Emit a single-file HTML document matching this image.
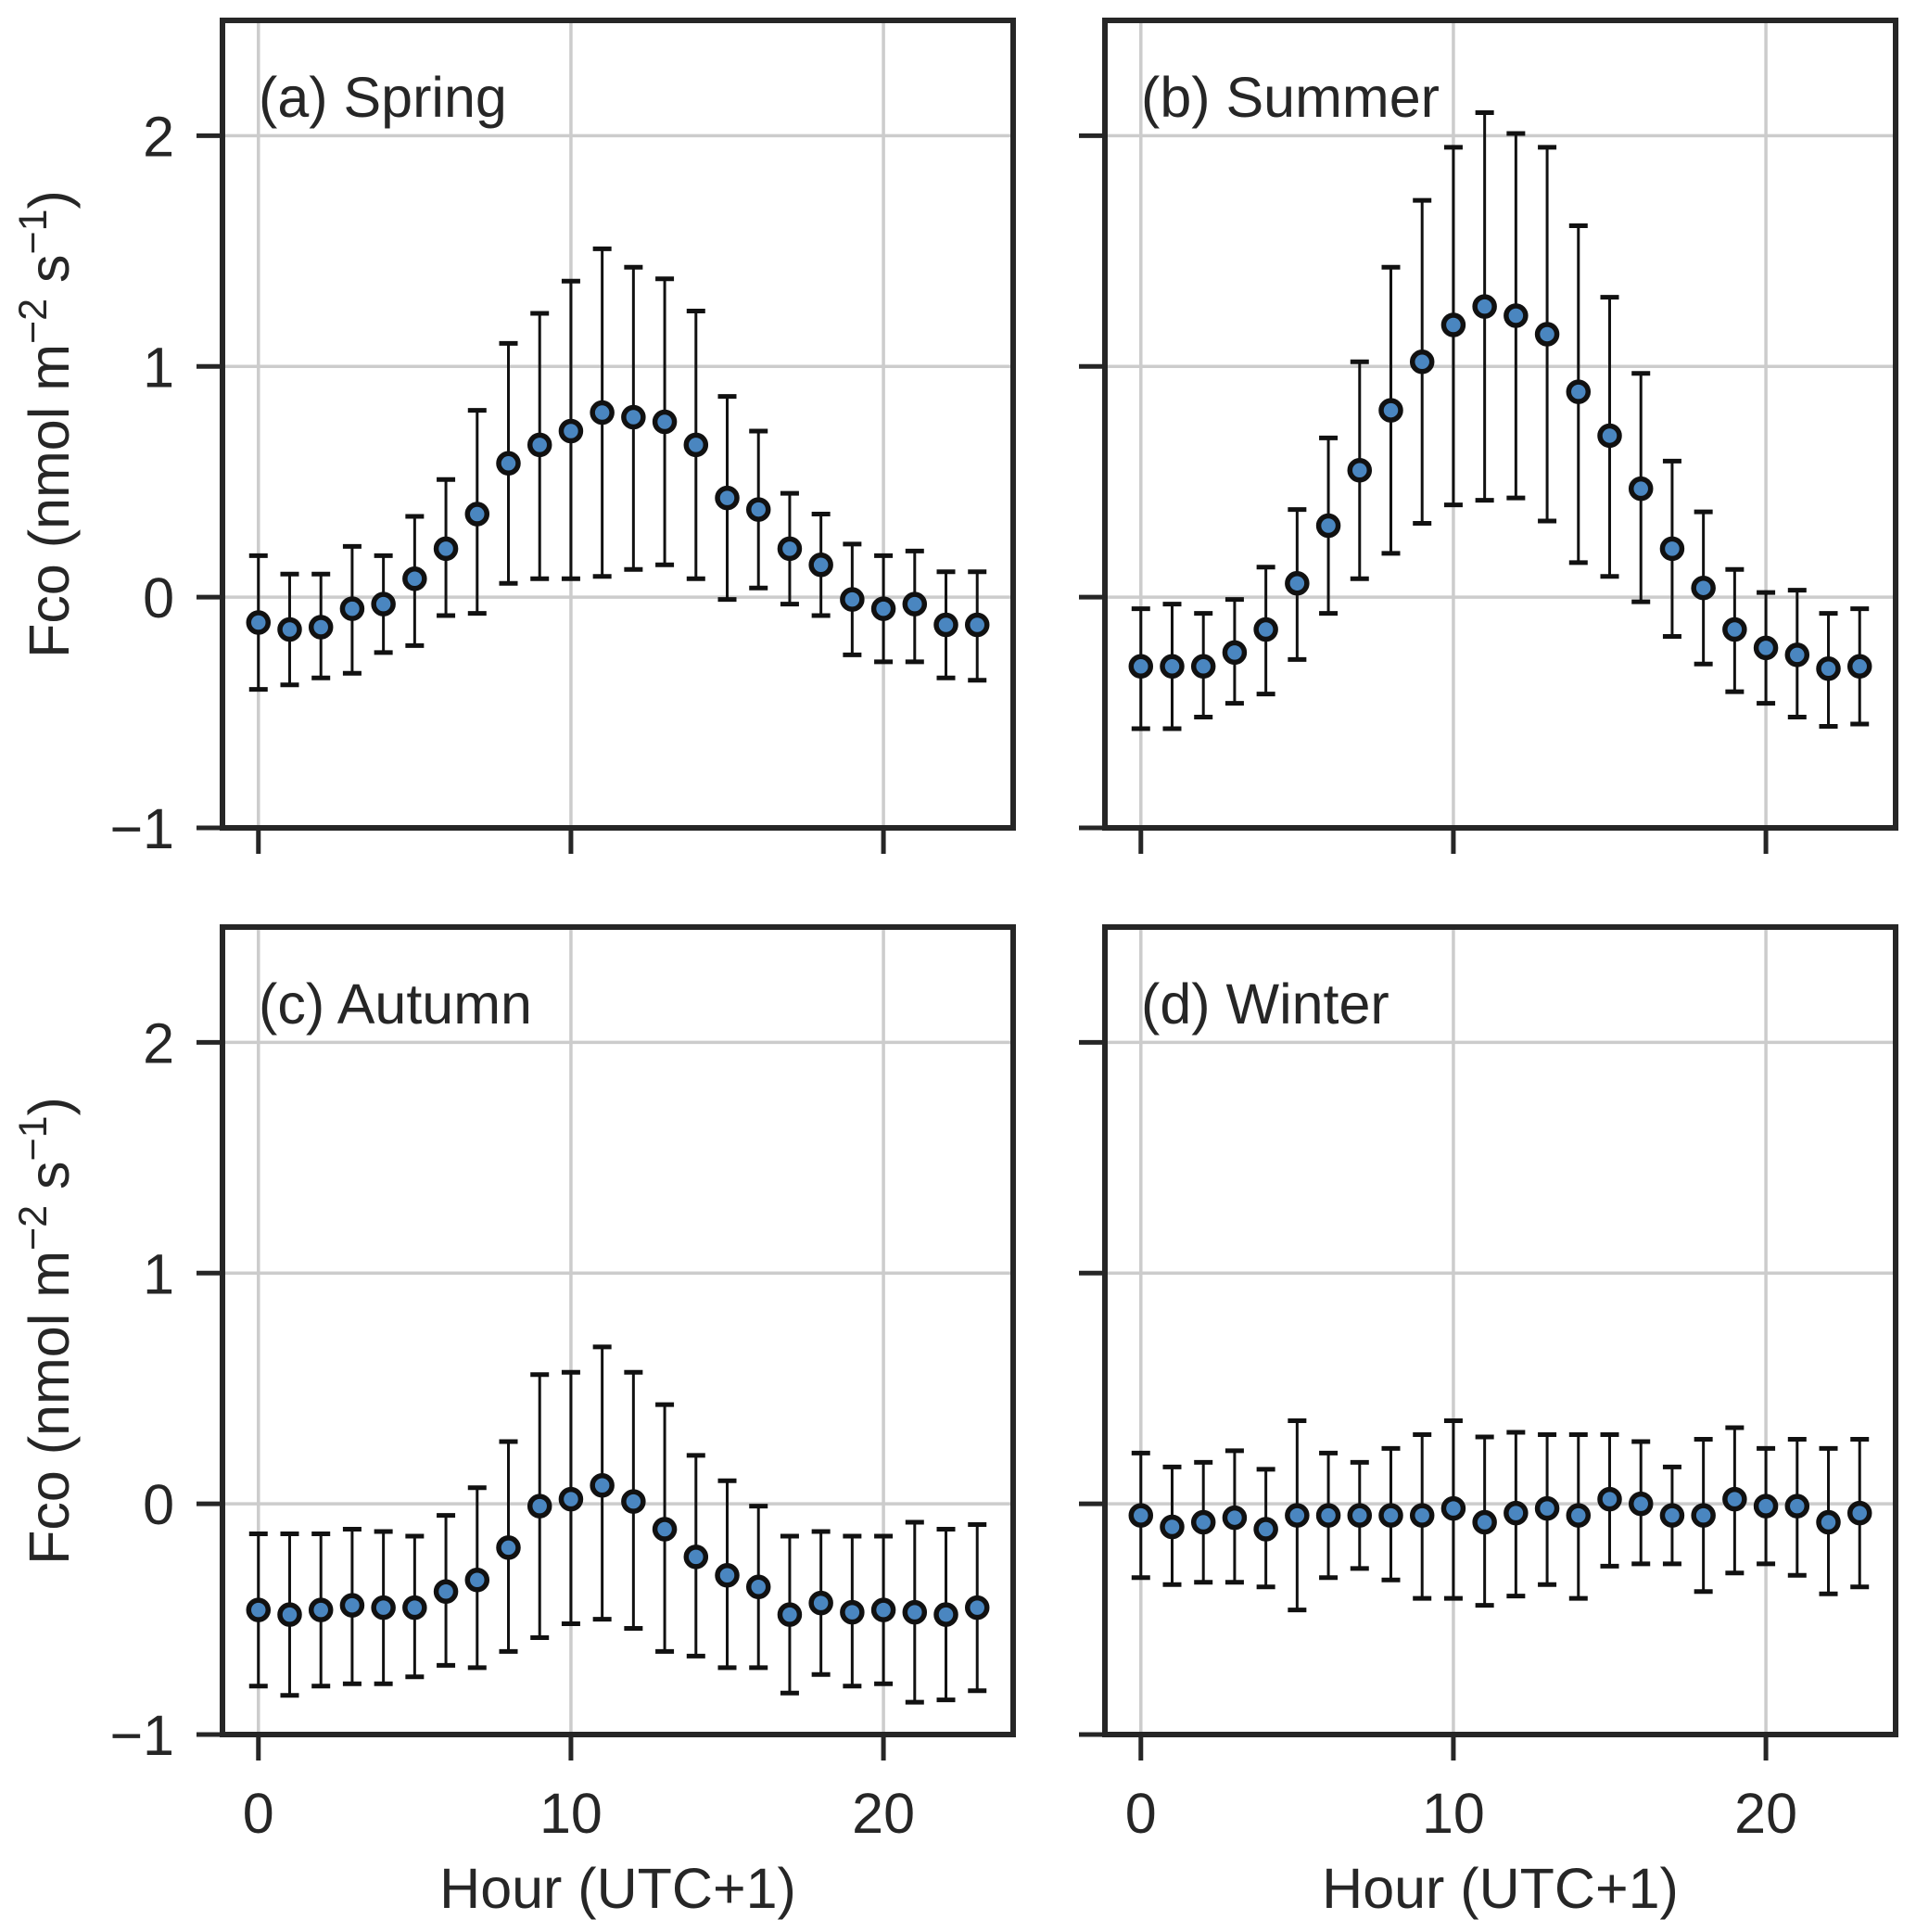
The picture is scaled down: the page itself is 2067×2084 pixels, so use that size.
<!DOCTYPE html>
<html><head><meta charset="utf-8"><style>
body{margin:0;background:#fff}
svg{display:block;font-family:"Liberation Sans",Arial,sans-serif}
</style></head><body>
<svg id="chart" width="2067" height="2084" viewBox="0 0 2067 2084" xmlns="http://www.w3.org/2000/svg"></svg>
<script>
const hours = [0,1,2,3,4,5,6,7,8,9,10,11,12,13,14,15,16,17,18,19,20,21,22,23];
const xTicks = [0,10,20];
const yTicks = [-1,0,1,2];
const panelTitles = ["(a) Spring","(b) Summer","(c) Autumn","(d) Winter"];
const springMean = [-0.11,-0.14,-0.13,-0.05,-0.03,0.08,0.21,0.36,0.58,0.66,0.72,0.80,0.78,0.76,0.66,0.43,0.38,0.21,0.14,-0.01,-0.05,-0.03,-0.12,-0.12];
const springUpper = [0.18,0.10,0.10,0.22,0.18,0.35,0.51,0.81,1.10,1.23,1.37,1.51,1.43,1.38,1.24,0.87,0.72,0.45,0.36,0.23,0.18,0.20,0.11,0.11];
const springLower = [-0.40,-0.38,-0.35,-0.33,-0.24,-0.21,-0.08,-0.07,0.06,0.08,0.08,0.09,0.12,0.14,0.08,-0.01,0.04,-0.03,-0.08,-0.25,-0.28,-0.28,-0.35,-0.36];
const summerMean = [-0.30,-0.30,-0.30,-0.24,-0.14,0.06,0.31,0.55,0.81,1.02,1.18,1.26,1.22,1.14,0.89,0.70,0.47,0.21,0.04,-0.14,-0.22,-0.25,-0.31,-0.30];
const summerUpper = [-0.05,-0.03,-0.07,-0.01,0.13,0.38,0.69,1.02,1.43,1.72,1.95,2.10,2.01,1.95,1.61,1.30,0.97,0.59,0.37,0.12,0.02,0.03,-0.07,-0.05];
const summerLower = [-0.57,-0.57,-0.52,-0.46,-0.42,-0.27,-0.07,0.08,0.19,0.32,0.40,0.42,0.43,0.33,0.15,0.09,-0.02,-0.17,-0.29,-0.41,-0.46,-0.52,-0.56,-0.55];
const autumnMean = [-0.46,-0.48,-0.46,-0.44,-0.45,-0.45,-0.38,-0.33,-0.19,-0.01,0.02,0.08,0.01,-0.11,-0.23,-0.31,-0.36,-0.48,-0.43,-0.47,-0.46,-0.47,-0.48,-0.45];
const autumnUpper = [-0.13,-0.13,-0.13,-0.11,-0.12,-0.14,-0.05,0.07,0.27,0.56,0.57,0.68,0.57,0.43,0.21,0.10,-0.01,-0.14,-0.12,-0.14,-0.14,-0.08,-0.11,-0.09];
const autumnLower = [-0.79,-0.83,-0.79,-0.78,-0.78,-0.75,-0.70,-0.71,-0.64,-0.58,-0.52,-0.50,-0.54,-0.64,-0.66,-0.71,-0.71,-0.82,-0.74,-0.79,-0.78,-0.86,-0.85,-0.81];
const winterMean = [-0.05,-0.10,-0.08,-0.06,-0.11,-0.05,-0.05,-0.05,-0.05,-0.05,-0.02,-0.08,-0.04,-0.02,-0.05,0.02,0.00,-0.05,-0.05,0.02,-0.01,-0.01,-0.08,-0.04];
const winterUpper = [0.22,0.16,0.18,0.23,0.15,0.36,0.22,0.18,0.24,0.30,0.36,0.29,0.31,0.30,0.30,0.30,0.27,0.16,0.28,0.33,0.24,0.28,0.24,0.28];
const winterLower = [-0.32,-0.35,-0.34,-0.34,-0.36,-0.46,-0.32,-0.28,-0.33,-0.41,-0.41,-0.44,-0.40,-0.35,-0.41,-0.27,-0.26,-0.26,-0.38,-0.30,-0.26,-0.31,-0.39,-0.36];

const NS="http://www.w3.org/2000/svg";
const svg=document.getElementById('chart');
function mk(tag,attrs,parent){const e=document.createElementNS(NS,tag);for(const k in attrs)e.setAttribute(k,attrs[k]);(parent||svg).appendChild(e);return e;}

const PW=853, PH=871, XMIN=-1.15, XMAX=24.15, YMIN=-1, YMAX=2.5, FS=61;
const panels=[
 {x:240,y:22,mean:springMean,up:springUpper,lo:springLower,name:'spring'},
 {x:1192,y:22,mean:summerMean,up:summerUpper,lo:summerLower,name:'summer'},
 {x:240,y:1000,mean:autumnMean,up:autumnUpper,lo:autumnLower,name:'autumn'},
 {x:1192,y:1000,mean:winterMean,up:winterUpper,lo:winterLower,name:'winter'}];

panels.forEach((p,i)=>{
  const g=mk('g',{});
  
  
  const sx=v=>p.x+(v-XMIN)/(XMAX-XMIN)*PW;
  const sy=v=>p.y+PH-(v-YMIN)/(YMAX-YMIN)*PH;
  xTicks.forEach(t=>{const l=mk('line',{x1:sx(t),x2:sx(t),y1:p.y,y2:p.y+PH,stroke:'#cccccc','stroke-width':3.5},g);
    });
  yTicks.forEach(t=>{const l=mk('line',{x1:p.x,x2:p.x+PW,y1:sy(t),y2:sy(t),stroke:'#cccccc','stroke-width':3.5},g);
    });
  hours.forEach((h,k)=>{
    const x=sx(h);
    const eb=mk('g',{},g);
    
    
    mk('line',{x1:x,x2:x,y1:sy(p.up[k]),y2:sy(p.lo[k]),stroke:'#111','stroke-width':3},eb);
    mk('line',{x1:x-10,x2:x+10,y1:sy(p.up[k]),y2:sy(p.up[k]),stroke:'#111','stroke-width':5},eb);
    mk('line',{x1:x-10,x2:x+10,y1:sy(p.lo[k]),y2:sy(p.lo[k]),stroke:'#111','stroke-width':5},eb);
  });
  hours.forEach((h,k)=>{
    const c=mk('circle',{cx:sx(h),cy:sy(p.mean[k]),r:10.5,fill:'#4a86c0',stroke:'#111','stroke-width':5.5},g);
    
    
  });
  const fr=mk('rect',{x:p.x,y:p.y,width:PW,height:PH,fill:'none',stroke:'#262626','stroke-width':6},g);
  
  yTicks.forEach(t=>{
    mk('line',{x1:p.x-28,x2:p.x,y1:sy(t),y2:sy(t),stroke:'#262626','stroke-width':5},g);
    if(i%2===0){const tx=mk('text',{x:p.x-52,y:sy(t)+22,'text-anchor':'end','font-size':FS,fill:'#262626'},g);
      tx.textContent=(t<0?'\u2212'+(-t):String(t));
      }
  });
  xTicks.forEach(t=>{
    mk('line',{x1:sx(t),x2:sx(t),y1:p.y+PH,y2:p.y+PH+28,stroke:'#262626','stroke-width':5},g);
    if(i>=2){const tx=mk('text',{x:sx(t),y:p.y+PH+62+44,'text-anchor':'middle','font-size':FS,fill:'#262626'},g);
      tx.textContent=String(t);
      }
  });
  const tt=mk('text',{x:p.x+39,y:p.y+104,'font-size':FS,fill:'#262626'},g);
  tt.textContent=panelTitles[i];
  
  if(i>=2){const xl=mk('text',{x:p.x+PW/2,y:2058,'text-anchor':'middle','font-size':FS,fill:'#262626'},g);
    xl.textContent='Hour (UTC+1)';
    }
  if(i%2===0){const cy=p.y+PH/2;
    const yl=mk('text',{x:0,y:0,transform:`translate(74,${cy}) rotate(-90)`,'text-anchor':'middle','font-size':FS,fill:'#262626'},g);
    yl.innerHTML='Fco (nmol m<tspan dy="-24" font-size="43">\u22122</tspan><tspan dy="24"> s</tspan><tspan dy="-24" font-size="43">\u22121</tspan><tspan dy="24">)</tspan>';
    }
});
</script>
</body></html>
